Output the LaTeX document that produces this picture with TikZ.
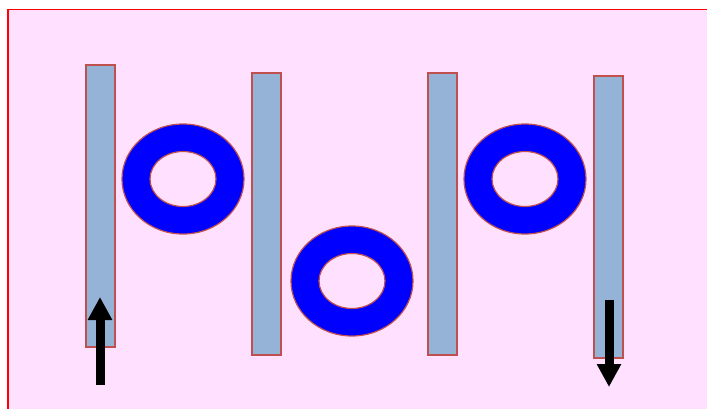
\documentclass[tikz,border=0pt]{standalone}
\usetikzlibrary{arrows.meta}
\definecolor{bgpink}{RGB}{255,224,255}
\definecolor{barblue}{RGB}{149,179,215}
\definecolor{edgered}{RGB}{192,80,77}
\definecolor{ringblue}{RGB}{0,0,255}
\tikzset{
  plate/.style={fill=barblue,draw=edgered,line width=1.6pt},
  ring/.style={fill=ringblue,draw=edgered,line width=1.2pt,even odd rule},
  bigarrow/.style={line width=9pt,-{Triangle[length=23pt,width=23pt]}}
}
\begin{document}
\begin{tikzpicture}[x=1pt,y=-1pt]
\path[use as bounding box] (0,0) rectangle (707,408);
\clip (0,0) rectangle (707,408);
\draw[fill=bgpink,draw=red,line width=1.8pt] (8,9.5) rectangle (720,420);
% plates
\node[plate,inner sep=0pt,minimum width=29pt,minimum height=282pt] (p1) at (100.5,206) {};
\node[plate,inner sep=0pt,minimum width=29pt,minimum height=282pt] (p2) at (266.5,214) {};
\node[plate,inner sep=0pt,minimum width=29pt,minimum height=282pt] (p3) at (442.5,214) {};
\node[plate,inner sep=0pt,minimum width=29pt,minimum height=282pt] (p4) at (608.5,217) {};
% rings
\path[ring] (183,179) ellipse [x radius=61,y radius=55] (183,179) ellipse [x radius=33,y radius=27.5];
\path[ring] (352,281) ellipse [x radius=61,y radius=55] (352,281) ellipse [x radius=33,y radius=27.5];
\path[ring] (525,179) ellipse [x radius=61,y radius=55] (525,179) ellipse [x radius=33,y radius=27.5];
% arrows
\draw[bigarrow] (100,385) -- (100,297);
\draw[bigarrow] (609,300) -- (609,387);
\end{tikzpicture}
\end{document}
